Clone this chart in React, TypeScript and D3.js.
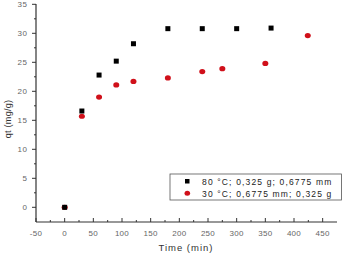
import React from "react";
import * as d3 from "d3";

const xTicks = [-50, 0, 50, 100, 150, 200, 250, 300, 350, 400, 450];
const yTicks = [0, 5, 10, 15, 20, 25, 30, 35];

const s80Time = [0, 30, 60, 90, 120, 180, 240, 300, 360];
const s80Qt = [0, 16.6, 22.8, 25.2, 28.2, 30.8, 30.8, 30.8, 30.9];

const s30Time = [0, 30, 60, 90, 120, 180, 240, 275, 350, 424];
const s30Qt = [0, 15.7, 19.0, 21.1, 21.7, 22.3, 23.4, 23.9, 24.8, 29.6];

const legendLabels = ["80 °C; 0,325 g; 0,6775 mm", "30 °C; 0,6775 mm; 0,325 g"];

export default function App() {
  const W = 343, H = 255;
  const x = d3.scaleLinear().domain([-50, 475]).range([36, 337]);
  const y = d3.scaleLinear().domain([0, 35]).range([207.3, 4.3]);
  const yBottom = 222;
  const font = "Arial, 'Liberation Sans', sans-serif";
  const minorX = d3.range(-25, 475, 50);
  const minorY = d3.range(2.5, 35, 5);
  return (
    <svg width={W} height={H} style={{ position: "absolute", left: 0, top: 0 }}>
      <rect width={W} height={H} fill="#fff" />
      <line x1={36} y1={4} x2={36} y2={yBottom} stroke="#333" strokeWidth={1.2} />
      <line x1={36} y1={yBottom} x2={337} y2={yBottom} stroke="#333" strokeWidth={1.2} />
      {xTicks.map((t) => (
        <g key={"xt" + t}>
          <line x1={x(t)} x2={x(t)} y1={yBottom} y2={yBottom - 4} stroke="#333" />
          <text x={x(t)} y={236} fontSize={8} fill="#666" textAnchor="middle" fontFamily={font} letterSpacing={0.3}>{t}</text>
        </g>
      ))}
      {minorX.map((t) => (
        <line key={"xm" + t} x1={x(t)} x2={x(t)} y1={yBottom} y2={yBottom - 2} stroke="#333" />
      ))}
      {yTicks.map((t) => (
        <g key={"yt" + t}>
          <line x1={32} x2={36} y1={y(t)} y2={y(t)} stroke="#333" />
          <text x={27.5} y={y(t) + 3} fontSize={8} fill="#666" textAnchor="end" fontFamily={font} letterSpacing={0.6}>{t}</text>
        </g>
      ))}
      {minorY.map((t: number) => (
        <line key={"ym" + t} x1={34} x2={36} y1={y(t)} y2={y(t)} stroke="#333" />
      ))}
      <text x={186} y={250.5} fontSize={9.5} fill="#333" textAnchor="middle" fontFamily={font} letterSpacing={1}>Time (min)</text>
      <text transform="translate(11,119) rotate(-90)" fontSize={9} fill="#333" textAnchor="middle" fontFamily={font} letterSpacing={0.3}>qt (mg/g)</text>
      {s30Time.map((t, i) => (
        <ellipse key={"c" + i} cx={x(t)} cy={y(s30Qt[i])} rx={3} ry={2.6} fill="#d0101a" />
      ))}
      {s80Time.map((t, i) => (
        <rect key={"s" + i} x={x(t) - 2.5} y={y(s80Qt[i]) - 2.5} width={5} height={5} fill="#000" />
      ))}
      <rect x={170} y={174} width={171.5} height={26} fill="#fff" stroke="#555" strokeWidth={0.8} />
      <rect x={185} y={179} width={4.5} height={4.5} fill="#000" />
      <ellipse cx={187.3} cy={193.3} rx={2.8} ry={2.5} fill="#d0101a" />
      <text x={202} y={184.5} fontSize={8.5} fill="#222" fontFamily={font} letterSpacing={1.15}>{legendLabels[0]}</text>
      <text x={202} y={196.5} fontSize={8.5} fill="#222" fontFamily={font} letterSpacing={1.15}>{legendLabels[1]}</text>
    </svg>
  );
}
